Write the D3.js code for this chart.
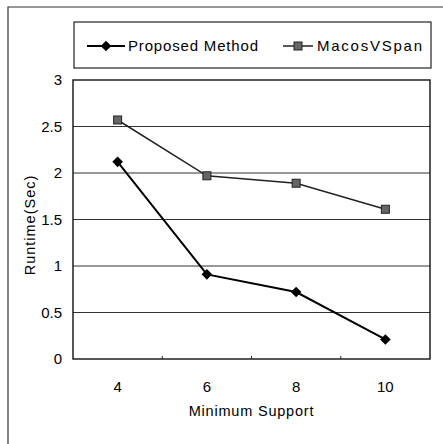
<!DOCTYPE html>
<html>
<head>
<meta charset="utf-8">
<script src="https://cdn.jsdelivr.net/npm/d3@7"></script>
<style>
  html, body { margin: 0; padding: 0; background: #fff; }
  svg { display: block; font-family: "Liberation Sans", Arial, sans-serif; }
  text { fill: #000; }
</style>
</head>
<body>
<svg id="chart"></svg>
<script>
// Data
const supports = ["4", "6", "8", "10"];
const proposedMethod = [2.12, 0.91, 0.72, 0.21];
const macosVSpan = [2.57, 1.97, 1.89, 1.61];
const yTicks = [0, 0.5, 1, 1.5, 2, 2.5, 3];
const seriesNames = ["Proposed Method", "MacosVSpan"];

const width = 443;
const height = 444;
const plot = { left: 73, right: 430, top: 80, bottom: 359 };

const svg = d3.select("#chart")
    .attr("width", width)
    .attr("height", height);

// outer frame (only top and left edges visible)
svg.append("path")
    .attr("d", `M8,${height} L8,7 L${width},7`)
    .attr("fill", "none")
    .attr("stroke", "#333")
    .attr("stroke-width", 1.2);

const x = d3.scaleBand()
    .domain(supports)
    .range([plot.left, plot.right]);

const y = d3.scaleLinear()
    .domain([0, 3])
    .range([plot.bottom, plot.top]);

// gridlines
svg.append("g")
    .selectAll("line")
    .data(yTicks.filter(d => d > 0 && d < 3))
    .join("line")
    .attr("x1", plot.left)
    .attr("x2", plot.right)
    .attr("y1", d => y(d))
    .attr("y2", d => y(d))
    .attr("stroke", "#333")
    .attr("stroke-width", 1);

// plot border
svg.append("rect")
    .attr("x", plot.left)
    .attr("y", plot.top)
    .attr("width", plot.right - plot.left)
    .attr("height", plot.bottom - plot.top)
    .attr("fill", "none")
    .attr("stroke", "#111")
    .attr("stroke-width", 1.4);

// y axis labels
const yAxis = d3.axisLeft(y)
    .tickValues(yTicks)
    .tickSize(0)
    .tickPadding(11)
    .tickFormat(d3.format("~g"));

svg.append("g")
    .attr("transform", `translate(${plot.left},0)`)
    .call(yAxis)
    .call(g => g.select(".domain").remove())
    .selectAll("text")
    .attr("font-size", 15)
    .attr("font-family", "Liberation Sans, Arial, sans-serif");

// x axis: small inner ticks at category boundaries
svg.append("g")
    .selectAll("line")
    .data(supports.slice(1))
    .join("line")
    .attr("x1", d => x(d))
    .attr("x2", d => x(d))
    .attr("y1", plot.bottom)
    .attr("y2", plot.bottom - 3)
    .attr("stroke", "#222");

const xAxis = d3.axisBottom(x)
    .tickSize(0)
    .tickPadding(22);

svg.append("g")
    .attr("transform", `translate(0,${plot.bottom})`)
    .call(xAxis)
    .call(g => g.select(".domain").remove())
    .selectAll("text")
    .attr("font-size", 15)
    .attr("font-family", "Liberation Sans, Arial, sans-serif");

// axis titles
svg.append("text")
    .attr("x", (plot.left + plot.right) / 2)
    .attr("y", 416)
    .attr("text-anchor", "middle")
    .attr("font-size", 14.5)
    .attr("letter-spacing", 0.8)
    .text("Minimum Support");

svg.append("text")
    .attr("transform", "translate(35,225) rotate(-90)")
    .attr("text-anchor", "middle")
    .attr("font-size", 14.5)
    .attr("letter-spacing", 1)
    .text("Runtime(Sec)");

// series
const cx = d => x(d) + x.bandwidth() / 2;
const line = d3.line()
    .x(d => cx(d[0]))
    .y(d => y(d[1]));

const macosPts = supports.map((s, i) => [s, macosVSpan[i]]);
const propPts = supports.map((s, i) => [s, proposedMethod[i]]);

svg.append("path")
    .datum(macosPts)
    .attr("d", line)
    .attr("fill", "none")
    .attr("stroke", "#222")
    .attr("stroke-width", 1.5);

svg.append("path")
    .datum(propPts)
    .attr("d", line)
    .attr("fill", "none")
    .attr("stroke", "#000")
    .attr("stroke-width", 2);

const diamond = d3.symbol().type(d3.symbolDiamond2).size(72);

svg.append("g")
    .selectAll("rect")
    .data(macosPts)
    .join("rect")
    .attr("x", d => cx(d[0]) - 4)
    .attr("y", d => y(d[1]) - 4)
    .attr("width", 8)
    .attr("height", 8)
    .attr("fill", "#666")
    .attr("stroke", "#222")
    .attr("stroke-width", 1);

svg.append("g")
    .selectAll("path")
    .data(propPts)
    .join("path")
    .attr("transform", d => `translate(${cx(d[0])},${y(d[1])})`)
    .attr("d", diamond)
    .attr("fill", "#000");

// legend
const legend = svg.append("g");
legend.append("rect")
    .attr("x", 74)
    .attr("y", 22)
    .attr("width", 357)
    .attr("height", 46)
    .attr("fill", "#fff")
    .attr("stroke", "#222")
    .attr("stroke-width", 1.2);

const legendItems = [
    { name: seriesNames[0], x0: 87, x1: 125, tx: 128, tw: 130 },
    { name: seriesNames[1], x0: 283, x1: 313, tx: 317, tw: 105 }
];
const ly = 46;

legend.selectAll("line")
    .data(legendItems)
    .join("line")
    .attr("x1", d => d.x0)
    .attr("x2", d => d.x1)
    .attr("y1", ly)
    .attr("y2", ly)
    .attr("stroke", (d, i) => i === 0 ? "#000" : "#222")
    .attr("stroke-width", (d, i) => i === 0 ? 2 : 1.5);

legend.append("path")
    .attr("transform", `translate(${(legendItems[0].x0 + legendItems[0].x1) / 2},${ly})`)
    .attr("d", diamond)
    .attr("fill", "#000");

legend.append("rect")
    .attr("x", (legendItems[1].x0 + legendItems[1].x1) / 2 - 4)
    .attr("y", ly - 4)
    .attr("width", 8)
    .attr("height", 8)
    .attr("fill", "#666")
    .attr("stroke", "#222");

legend.selectAll("text")
    .data(legendItems)
    .join("text")
    .attr("x", d => d.tx)
    .attr("y", ly + 5)
    .attr("font-size", 15)
    .attr("textLength", d => d.tw)
    .attr("lengthAdjust", "spacing")
    .text(d => d.name);
</script>
</body>
</html>
